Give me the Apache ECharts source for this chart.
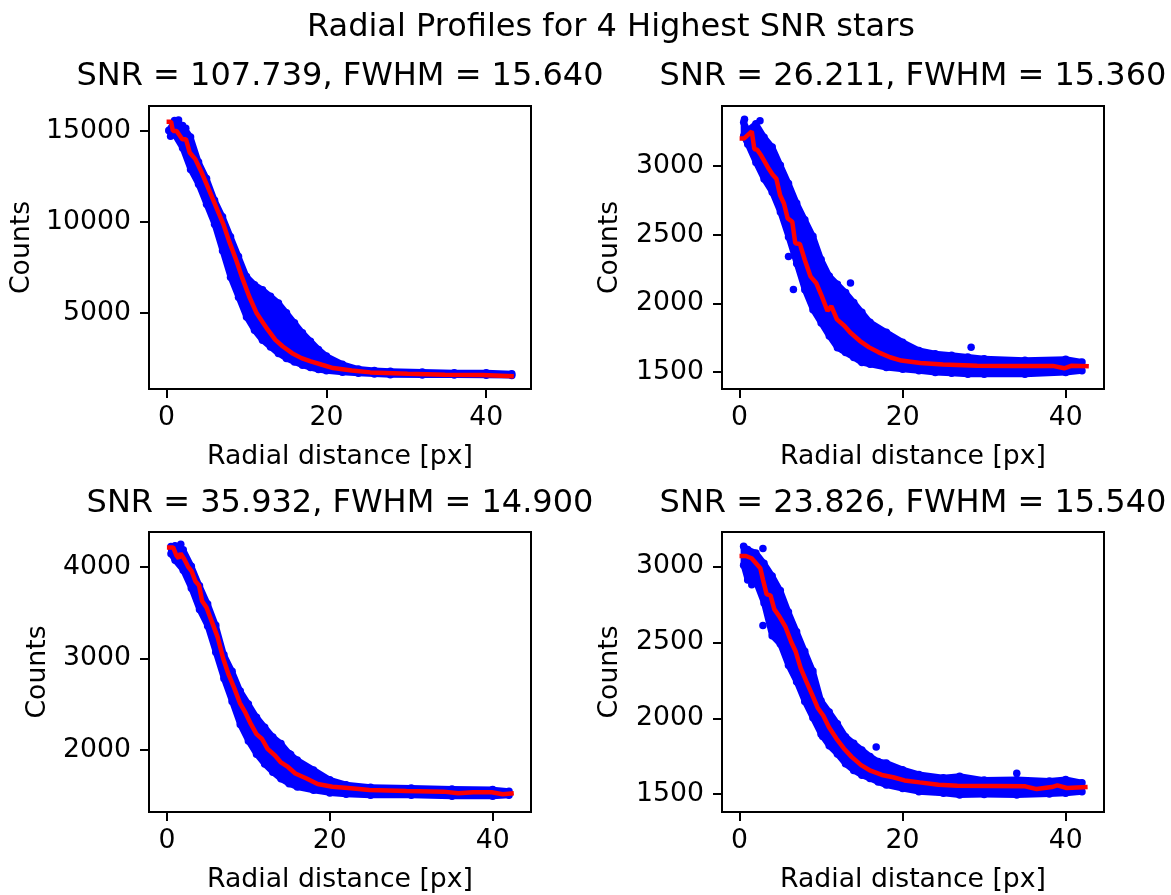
<!DOCTYPE html>
<html>
<head>
<meta charset="utf-8">
<script src="https://cdn.jsdelivr.net/npm/echarts@6/dist/echarts.min.js"></script>
<style>
html,body{margin:0;padding:0;background:#fff;}
#chart{width:1171px;height:895px;}
</style>
</head>
<body>
<div id="chart"></div>
<script>
// ---------- texts ----------
const supTitle = 'Radial Profiles for 4 Highest SNR stars';
const panelTitles = [
  'SNR = 107.739, FWHM = 15.640',
  'SNR = 26.211, FWHM = 15.360',
  'SNR = 35.932, FWHM = 14.900',
  'SNR = 23.826, FWHM = 15.540'
];
const xLabel = 'Radial distance [px]';
const yLabel = 'Counts';
const xTicks = [0, 20, 40];
const yTicks1 = [5000, 10000, 15000];
const yTicks2 = [1500, 2000, 2500, 3000];
const yTicks3 = [2000, 3000, 4000];
const yTicks4 = [1500, 2000, 2500, 3000];

// ---------- panel 1 ----------
const p1BandR  = [0.3, 1, 2, 3, 4, 5, 6, 7, 8, 9, 10, 11, 12, 13, 14, 15, 16, 17, 18, 19, 20, 22, 24, 26, 28, 32, 36, 40, 43.2];
const p1BandHi = [15040, 15570, 15300, 14660, 13290, 12380, 11190, 10280, 9180, 8090, 6990, 6540, 6260, 5900, 5530, 4990, 4440, 3890, 3430, 2980, 2610, 2160, 1900, 1820, 1770, 1730, 1700, 1690, 1640];
const p1BandLo = [15010, 14795, 14065, 12880, 12060, 10960, 9870, 8410, 6950, 5850, 4760, 4030, 3480, 3110, 2750, 2480, 2290, 2110, 1980, 1870, 1800, 1720, 1670, 1620, 1590, 1570, 1570, 1560, 1540];
const p1LineR  = [0, 0.56, 0.79, 1.26, 1.49, 1.96, 2.42, 2.89, 3.59, 4.29, 4.99, 5.69, 6.39, 7.09, 7.79, 8.72, 9.42, 10.35, 11.28, 11.98, 12.68, 13.61, 14.55, 15.71, 16.88, 18.04, 19.44, 20.84, 23.17, 25.5, 30.16, 34.83, 39.49, 43.45];
const p1LineY  = [15510, 15510, 15000, 15000, 15090, 14543, 14543, 13813, 13448, 12810, 12080, 11350, 10620, 9890, 8977, 7882, 6970, 5875, 4962, 4506, 4050, 3502, 3137, 2772, 2498, 2316, 2133, 1951, 1823, 1714, 1640, 1586, 1568, 1495];
const p1ExtraR = [1.5, 2.4, 0.5, 5.6, 4.2];
const p1ExtraY = [15600, 15150, 14700, 11000, 12500];

// ---------- panel 2 ----------
const p2BandR  = [0.5, 1, 2, 3, 4, 5, 6, 7, 8, 9, 10, 11, 12, 13, 14, 15, 16, 18, 20, 22, 24, 26, 28, 30, 35, 40, 42];
const p2BandHi = [3320, 3260, 3308, 3211, 3139, 3007, 2874, 2730, 2610, 2489, 2321, 2200, 2140, 2080, 2008, 1936, 1863, 1791, 1719, 1659, 1635, 1623, 1611, 1599, 1587, 1594, 1575];
const p2BandLo = [3219, 3159, 3027, 2906, 2810, 2666, 2485, 2292, 2100, 1955, 1859, 1763, 1679, 1643, 1607, 1570, 1558, 1534, 1522, 1510, 1498, 1492, 1486, 1486, 1486, 1498, 1510];
const p2LineR  = [0, 0.56, 1.49, 1.81, 2.18, 2.65, 3.11, 3.58, 4.04, 4.51, 4.97, 5.44, 5.9, 6.46, 6.83, 7.39, 7.99, 8.69, 9.39, 10.08, 10.78, 11.25, 11.94, 12.87, 13.57, 14.73, 15.89, 17.05, 18.45, 19.84, 22.17, 24.95, 29.14, 33.78, 38.43, 39.82, 40.75, 42.84];
const p2LineY  = [3202, 3202, 3253, 3125, 3118, 3077, 3029, 2981, 2940, 2908, 2788, 2728, 2620, 2595, 2439, 2434, 2319, 2198, 2150, 2054, 1946, 1982, 1885, 1837, 1789, 1729, 1681, 1645, 1609, 1585, 1568, 1556, 1548, 1546, 1546, 1529, 1548, 1544];
const p2ExtraR = [28.4, 6.6, 6.0, 3.6, 0.6, 2.5, 9.5, 11.5, 13.6];
const p2ExtraY = [1681, 2102, 2343, 2896, 3342, 3330, 2040, 2150, 2150];

// ---------- panel 3 ----------
const p3BandR  = [0.5, 1, 2, 3, 4, 5, 6, 7, 8, 9, 10, 11, 12, 13, 14, 15, 16, 18, 20, 22, 25, 30, 35, 40, 42];
const p3BandHi = [4227, 4234, 4191, 4011, 3796, 3598, 3364, 3040, 2860, 2644, 2501, 2357, 2249, 2141, 2069, 1961, 1889, 1781, 1673, 1619, 1590, 1583, 1573, 1565, 1547];
const p3BandLo = [4147, 4075, 3967, 3770, 3536, 3356, 3068, 2780, 2529, 2277, 2097, 1953, 1845, 1755, 1683, 1629, 1593, 1557, 1529, 1514, 1503, 1503, 1493, 1493, 1503];
const p3LineR  = [0, 0.77, 1.14, 1.45, 1.68, 2.14, 2.59, 3.05, 3.5, 3.95, 4.32, 4.86, 5.55, 6.23, 6.91, 7.59, 8.27, 8.95, 9.64, 10.32, 11, 11.68, 12.36, 13.27, 13.95, 14.86, 15.77, 17.14, 18.5, 20.32, 22.59, 24.86, 29.41, 33.95, 35.77, 37.59, 39.86, 41.23, 42.59];
const p3LineY  = [4216, 4216, 4133, 4097, 4151, 4086, 4007, 3953, 3845, 3799, 3630, 3558, 3396, 3234, 3000, 2820, 2676, 2515, 2407, 2281, 2173, 2119, 2011, 1939, 1867, 1813, 1741, 1687, 1626, 1597, 1579, 1561, 1551, 1543, 1525, 1536, 1536, 1515, 1525];
const p3ExtraR = [6.3, 13.4, 15.2, 1.7];
const p3ExtraY = [3150, 2080, 1950, 4250];

// ---------- panel 4 ----------
const p4BandR  = [0.5, 1, 2, 3, 4, 5, 6, 7, 8, 9, 10, 11, 12, 13, 14, 15, 16, 17, 18, 20, 22, 25, 27, 30, 34, 38, 40, 42];
const p4BandHi = [3133, 3111, 3089, 3021, 2938, 2841, 2700, 2570, 2441, 2311, 2116, 2041, 1965, 1879, 1835, 1792, 1749, 1716, 1706, 1662, 1630, 1608, 1619, 1593, 1597, 1587, 1597, 1576];
const p4BandLo = [3008, 2911, 2900, 2760, 2544, 2489, 2349, 2241, 2111, 2003, 1895, 1819, 1765, 1700, 1657, 1625, 1603, 1581, 1560, 1538, 1517, 1506, 1495, 1499, 1495, 1502, 1506, 1517];
const p4LineR  = [0, 0.79, 1.48, 2.18, 2.55, 2.87, 3.33, 3.8, 4.26, 4.95, 5.65, 6.34, 6.9, 7.5, 8.19, 8.89, 9.58, 10.28, 10.97, 11.9, 12.82, 13.75, 14.91, 16.06, 17.45, 18.84, 20.23, 22.08, 24.4, 26.71, 31.34, 35.05, 36.44, 38.29, 38.98, 40.14, 42.69];
const p4LineY  = [3069, 3069, 3054, 3011, 2989, 2914, 2816, 2810, 2719, 2665, 2600, 2503, 2438, 2330, 2243, 2157, 2070, 2017, 1941, 1865, 1800, 1746, 1692, 1655, 1627, 1612, 1591, 1578, 1562, 1556, 1554, 1552, 1534, 1547, 1558, 1541, 1547];
const p4ExtraR = [2.87, 2.87, 16.76, 34.0, 1.5, 10.2];
const p4ExtraY = [3119, 2611, 1811, 1638, 2880, 1880];

// ---------- build ----------
const FONT = 'DejaVu Sans';
const BLUE = '#0000ff';
const panels = [
  {grid:{left:149, top:106, width:382, height:283}, xr:[-2.2, 45.6], yr:[800, 16370], yt:yTicks1, gap:113,
   br:p1BandR, hi:p1BandHi, lo:p1BandLo, lr:p1LineR, ly:p1LineY, er:p1ExtraR, ey:p1ExtraY, tx:340, ty:61},
  {grid:{left:722, top:106, width:382, height:283}, xr:[-2.16, 44.7], yr:[1378, 3438], yt:yTicks2, gap:98,
   br:p2BandR, hi:p2BandHi, lo:p2BandLo, lr:p2LineR, ly:p2LineY, er:p2ExtraR, ey:p2ExtraY, tx:913, ty:61},
  {grid:{left:149, top:532, width:382, height:284}, xr:[-2.2, 44.7], yr:[1320, 4385], yt:yTicks3, gap:97,
   br:p3BandR, hi:p3BandHi, lo:p3BandLo, lr:p3LineR, ly:p3LineY, er:p3ExtraR, ey:p3ExtraY, tx:340, ty:488},
  {grid:{left:722, top:532, width:382, height:284}, xr:[-2.15, 44.7], yr:[1383, 3227], yt:yTicks4, gap:98,
   br:p4BandR, hi:p4BandHi, lo:p4BandLo, lr:p4LineR, ly:p4LineY, er:p4ExtraR, ey:p4ExtraY, tx:913, ty:488}
];

const titles = [{
  text: supTitle, left: 611, top: 12, textAlign: 'center', padding: 0,
  textStyle: {fontSize: 32, fontWeight: 'normal', color: '#000', fontFamily: FONT}
}];
const grids = [], xAxes = [], yAxes = [], series = [];
const tickStyle = {color: '#000', width: 2};
const labelStyle = {fontSize: 26.7, color: '#000', fontFamily: FONT};

panels.forEach((p, k) => {
  titles.push({
    text: panelTitles[k], left: p.tx, top: p.ty, textAlign: 'center', padding: 0,
    textStyle: {fontSize: 32, fontWeight: 'normal', color: '#000', fontFamily: FONT}
  });
  grids.push(Object.assign({show: true, borderColor: '#000', borderWidth: 2, backgroundColor: 'transparent'}, p.grid));
  xAxes.push({
    type: 'value', gridIndex: k, min: p.xr[0], max: p.xr[1],
    axisLine: {show: true, onZero: false, lineStyle: tickStyle}, splitLine: {show: false},
    axisTick: {show: true, inside: false, customValues: xTicks, length: 9, lineStyle: tickStyle},
    axisLabel: Object.assign({customValues: xTicks, margin: 16, formatter: v => String(v)}, labelStyle),
    name: xLabel, nameLocation: 'middle', nameGap: 55, nameTextStyle: labelStyle
  });
  yAxes.push({
    type: 'value', gridIndex: k, min: p.yr[0], max: p.yr[1],
    axisLine: {show: true, onZero: false, lineStyle: tickStyle}, splitLine: {show: false},
    axisTick: {show: true, inside: false, customValues: p.yt, length: 9, lineStyle: tickStyle},
    axisLabel: Object.assign({customValues: p.yt, margin: 18, formatter: v => String(v)}, labelStyle),
    name: yLabel, nameLocation: 'middle', nameGap: p.gap, nameTextStyle: labelStyle
  });
  // dense cloud body: strips between the read lower and upper dot-centre edges,
  // stroked so that the body reaches as far as the dots' own radius
  series.push({
    type: 'custom', xAxisIndex: k, yAxisIndex: k, silent: true, clip: true, z: 1,
    encode: {x: 0, y: [1, 2]},
    data: p.br.map((r, i) => [r, p.lo[i], p.hi[i]]),
    renderItem: function (params, api) {
      const i = params.dataIndex;
      if (i >= p.br.length - 1) return null;
      const pts = [
        api.coord([p.br[i], p.lo[i]]),
        api.coord([p.br[i], p.hi[i]]),
        api.coord([p.br[i + 1], p.hi[i + 1]]),
        api.coord([p.br[i + 1], p.lo[i + 1]])
      ];
      return {
        type: 'polygon', shape: {points: pts},
        style: {fill: BLUE, stroke: BLUE, lineWidth: 6, lineJoin: 'round'}
      };
    }
  });
  const dots = [];
  p.br.forEach((r, i) => { dots.push([r, p.hi[i]]); dots.push([r, p.lo[i]]); });
  p.er.forEach((r, i) => dots.push([r, p.ey[i]]));
  series.push({
    type: 'scatter', xAxisIndex: k, yAxisIndex: k, symbolSize: 7.5, silent: true,
    itemStyle: {color: BLUE, opacity: 1}, z: 2, data: dots
  });
  series.push({
    type: 'line', xAxisIndex: k, yAxisIndex: k, symbol: 'none', silent: true,
    lineStyle: {color: '#ff0000', width: 4.5}, z: 3,
    data: p.lr.map((r, i) => [r, p.ly[i]])
  });
});

const chart = echarts.init(document.getElementById('chart'), null, {renderer: 'canvas'});
chart.setOption({
  animation: false,
  backgroundColor: '#ffffff',
  title: titles,
  grid: grids,
  xAxis: xAxes,
  yAxis: yAxes,
  series: series
});
</script>
</body>
</html>
